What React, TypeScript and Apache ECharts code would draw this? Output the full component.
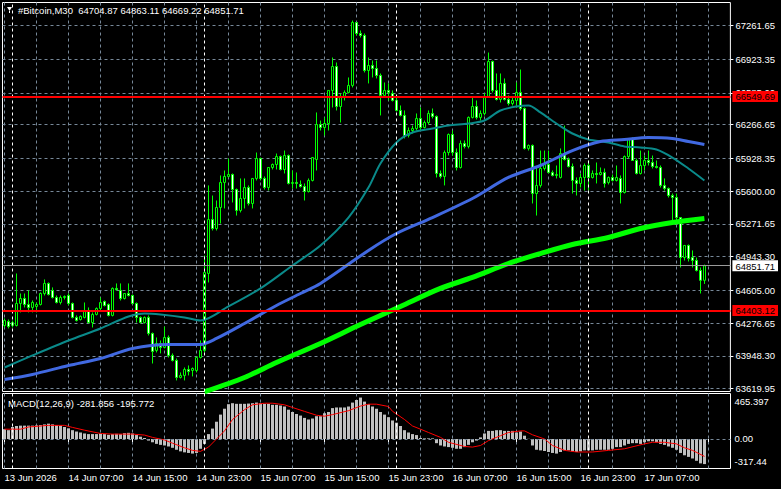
import React, { useEffect, useRef } from 'react';
import * as echarts from 'echarts';

const symbolName = '#Bitcoin,M30';
const FONT = "'Liberation Sans', Arial, sans-serif";

// OHLC of the M30 bars, first bar = 13 Jun 2026 23:00
const barOpen = [
  64252, 64292, 64252, 64252, 64473, 64523, 64463, 64433, 64443, 64463,
  64573, 64674, 64604, 64533, 64483, 64533, 64553, 64473, 64333, 64312,
  64333, 64393, 64282, 64363, 64423, 64493, 64463, 64353, 64624, 64604,
  64523, 64573, 64553, 64473, 64333, 64282, 64333, 64172, 64002, 64072,
  64032, 64132, 63952, 63901, 63731, 63751, 63811, 63801, 63801, 63931,
  64002, 64774, 65315, 65225, 65436, 65687, 65747, 65767, 65616, 65406,
  65526, 65636, 65476, 65727, 65927, 65727, 65636, 65837, 65867, 65947,
  65817, 65957, 65677, 65687, 65667, 65646, 65596, 65707, 65917, 66268,
  66238, 66278, 66610, 66850, 66449, 66550, 66590, 66660, 67291, 67181,
  67161, 66810, 66860, 66830, 66760, 66560, 66610, 66580, 66509, 66409,
  66359, 66158, 66208, 66228, 66329, 66238, 66288, 66379, 66349, 65777,
  65747, 65987, 66168, 65987, 65837, 66078, 66048, 66339, 66449, 66339,
  66379, 66550, 66900, 66610, 66520, 66680, 66520, 66479, 66509, 66590,
  66429, 66028, 66058, 65576, 65657, 65827, 65867, 65787, 65757, 65737,
  65977, 65917, 65847, 65707, 65677, 65737, 65857, 65737, 65777, 65767,
  65787, 65687, 65737, 65707, 65727, 65586, 65947, 66118, 65907, 65777,
  65857, 65907, 65887, 65847, 65837, 65657, 65626, 65556, 65536, 65335,
  64934, 65055, 64934, 64904, 64804, 64704.87,
];
const barHigh = [
  64323, 64312, 64302, 64774, 64573, 64573, 64604, 64503, 64483, 64584,
  64714, 64684, 64634, 64553, 64553, 64553, 64573, 64483, 64353, 64353,
  64483, 64433, 64383, 64433, 64533, 64503, 64473, 64634, 64674, 64674,
  64573, 64674, 64563, 64483, 64343, 64343, 64353, 64182, 64132, 64102,
  64242, 64152, 63972, 63921, 63781, 63831, 63851, 63831, 63942, 64102,
  64954, 65657, 65556, 65506, 65757, 65807, 65927, 65777, 65626, 65727,
  65727, 65657, 65727, 65987, 65937, 65747, 65837, 65877, 65977, 65957,
  66007, 65967, 65807, 65787, 65707, 65677, 65727, 65937, 66389, 66308,
  66339, 66610, 66940, 66890, 66580, 66610, 66740, 67311, 67291, 67211,
  67181, 66940, 66910, 66910, 66780, 66690, 66680, 66610, 66540, 66459,
  66409, 66238, 66258, 66379, 66439, 66308, 66409, 66429, 66359, 65807,
  66007, 66178, 66208, 66028, 66108, 66108, 66349, 66540, 66509, 66409,
  66580, 66990, 66910, 66780, 66780, 66730, 66560, 66540, 66690, 66820,
  66439, 66068, 66068, 65837, 66007, 66007, 66007, 65807, 65857, 66028,
  66258, 65937, 65877, 65737, 65777, 65877, 65907, 65807, 65887, 65837,
  65827, 65747, 65767, 65857, 65757, 65957, 66118, 66138, 65927, 66007,
  65957, 66007, 65957, 65907, 65857, 65727, 65636, 65576, 65576, 65335,
  65055, 65065, 65005, 64934, 64834, 64863.11,
];
const barLow = [
  64232, 64222, 64232, 64242, 64383, 64433, 64383, 64383, 64383, 64453,
  64553, 64553, 64523, 64473, 64463, 64513, 64453, 64323, 64292, 64302,
  64323, 64272, 64232, 64353, 64403, 64443, 64343, 64343, 64604, 64503,
  64513, 64543, 64463, 64282, 64272, 64272, 64152, 63871, 63982, 63972,
  64022, 63931, 63891, 63701, 63721, 63701, 63751, 63741, 63781, 63921,
  63982, 64684, 65205, 65205, 65275, 65426, 65737, 65486, 65355, 65386,
  65426, 65456, 65426, 65707, 65707, 65616, 65606, 65817, 65817, 65807,
  65777, 65667, 65626, 65626, 65636, 65506, 65586, 65697, 65807, 66208,
  66158, 66208, 66439, 66409, 66288, 66509, 66580, 66640, 67161, 67141,
  66790, 66680, 66740, 66730, 66359, 66540, 66509, 66499, 66399, 66349,
  66128, 66138, 66178, 66208, 66208, 66228, 66268, 66329, 65737, 65727,
  65657, 65957, 65957, 65807, 65827, 66028, 66028, 66329, 66319, 66308,
  66359, 66540, 66590, 66509, 66489, 66509, 66459, 66459, 66439, 66409,
  66017, 66007, 65476, 65355, 65636, 65807, 65777, 65747, 65727, 65727,
  65907, 65837, 65576, 65556, 65636, 65606, 65606, 65727, 65677, 65757,
  65636, 65667, 65697, 65697, 65476, 65576, 65927, 65907, 65767, 65767,
  65807, 65857, 65827, 65827, 65636, 65606, 65536, 65305, 65315, 64834,
  64904, 64894, 64834, 64794, 64573, 64669.22,
];
const barClose = [
  64302, 64242, 64282, 64473, 64523, 64463, 64433, 64483, 64463, 64573,
  64674, 64563, 64533, 64483, 64533, 64543, 64473, 64333, 64302, 64343,
  64393, 64282, 64363, 64423, 64483, 64453, 64353, 64624, 64610, 64523,
  64573, 64553, 64473, 64333, 64282, 64333, 64172, 63992, 64072, 64032,
  64132, 63952, 63901, 63731, 63751, 63811, 63791, 63821, 63931, 64002,
  64784, 65315, 65225, 65436, 65687, 65747, 65767, 65616, 65406, 65526,
  65636, 65476, 65727, 65927, 65727, 65636, 65837, 65867, 65947, 65817,
  65957, 65677, 65687, 65677, 65646, 65596, 65707, 65937, 66268, 66238,
  66278, 66610, 66850, 66449, 66550, 66590, 66660, 67291, 67181, 67161,
  66810, 66860, 66830, 66760, 66560, 66610, 66590, 66509, 66409, 66359,
  66158, 66208, 66228, 66329, 66238, 66288, 66379, 66349, 65777, 65747,
  65987, 66168, 65987, 65837, 66078, 66048, 66339, 66449, 66339, 66379,
  66550, 66900, 66610, 66520, 66680, 66520, 66479, 66509, 66590, 66429,
  66028, 66058, 65576, 65657, 65827, 65867, 65787, 65757, 65767, 65977,
  65917, 65847, 65707, 65677, 65737, 65857, 65737, 65777, 65767, 65787,
  65677, 65737, 65707, 65737, 65586, 65947, 66118, 65907, 65777, 65857,
  65907, 65887, 65847, 65837, 65657, 65626, 65556, 65536, 65335, 64934,
  65055, 64924, 64904, 64804, 64704.87, 64851.71,
];

// moving averages: [bar index, price]
const maTeal = [
  [0, 63831], [7, 63952], [16, 64102], [24, 64222], [31, 64343], [35, 64373], [39, 64363],
  [45, 64333], [49, 64302], [56, 64443], [64, 64624], [72, 64854], [79, 65055], [86, 65335],
  [91, 65636], [94, 65877], [98, 66088], [102, 66188], [107, 66228], [111, 66258], [116, 66278],
  [120, 66308], [124, 66409], [128, 66449], [131, 66459], [134, 66389], [138, 66278], [142, 66178],
  [146, 66118], [151, 66088], [155, 66048], [159, 66038], [163, 66017], [167, 65937], [171, 65827],
  [175, 65707],
];
const maBlue = [
  [0, 63711], [7, 63761], [16, 63851], [24, 63921], [32, 64022], [41, 64062], [49, 64062],
  [53, 64122], [60, 64272], [68, 64453], [74, 64573], [79, 64674], [91, 65005], [98, 65175],
  [107, 65335], [117, 65526], [126, 65737], [134, 65857], [142, 66007], [149, 66098],
  [155, 66118], [161, 66138], [167, 66128], [171, 66098], [175, 66068],
];
const maLime = [
  [50, 63587], [60, 63731], [68, 63881], [79, 64072], [89, 64262], [99, 64443], [109, 64624],
  [117, 64734], [126, 64874], [134, 64974], [142, 65065], [151, 65135], [159, 65225],
  [167, 65285], [175, 65325],
];

// MACD(12,26,9) histogram per bar and signal line [bar index, value]
const macdHist = [
  110, 99, 135, 146, 150, 150, 150, 150, 153, 157,
  164, 172, 164, 157, 150, 135, 120, 99, 84, 73,
  62, 55, 55, 55, 62, 55, 47, 55, 58, 55,
  66, 69, 62, 44, 26, 11, -18, -37, -55, -66,
  -73, -84, -99, -121, -139, -150, -157, -164, -157, -110,
  -55, 55, 117, 194, 274, 340, 391, 402, 395, 395,
  395, 398, 402, 409, 402, 395, 395, 384, 384, 376,
  365, 329, 303, 281, 263, 237, 219, 230, 256, 256,
  289, 303, 347, 354, 354, 354, 365, 409, 438, 465.397,
  420, 391, 365, 340, 303, 274, 245, 208, 183, 146,
  99, 73, 55, 44, 11, 7, 7, 7, -47, -73,
  -84, -91, -99, -110, -110, -91, -66, -37, -18, 18,
  62, 91, 91, 99, 99, 91, 91, 91, 73, 84,
  37, 2, -73, -121, -128, -135, -146, -157, -164, -146,
  -128, -128, -139, -146, -139, -128, -128, -128, -121, -121,
  -121, -121, -110, -91, -91, -73, -55, -47, -47, -55,
  -37, -26, -26, -37, -55, -66, -84, -99, -121, -157,
  -183, -201, -219, -245, -274, -281.856,
];
const macdSignal = [
  [0, 110], [4, 110], [6, 135], [11, 153], [15, 153], [17, 130], [20, 99], [24, 62], [27, 55],
  [32, 55], [35, 44], [37, 18], [40, -11], [42, -47], [45, -99], [47, -128], [49, -139],
  [51, -91], [53, 0], [55, 91], [57, 219], [60, 329], [62, 384], [65, 402], [67, 402],
  [70, 384], [72, 354], [75, 310], [78, 267], [80, 256], [82, 274], [86, 318], [89, 370],
  [91, 391], [93, 391], [96, 365], [97, 311], [100, 219], [102, 146], [104, 110], [106, 73],
  [109, 18], [111, -37], [115, -84], [117, -91], [119, -73], [121, -18], [124, 37], [126, 73],
  [129, 91], [130, 91], [132, 47], [135, 0], [137, -73], [140, -128], [143, -146], [147, -146],
  [151, -128], [155, -110], [160, -55], [162, -37], [165, -37], [168, -55], [170, -99],
  [172, -128], [175, -195.772],
];

const categories = Array.from({ length: 182 }, (_, i) => 'bar' + i);
const xTickLabels = [
  '13 Jun 2026', '14 Jun 07:00', '14 Jun 15:00', '14 Jun 23:00', '15 Jun 07:00', '15 Jun 15:00',
  '15 Jun 23:00', '16 Jun 07:00', '16 Jun 15:00', '16 Jun 23:00', '17 Jun 07:00',
];
const daySeparators = [2, 50, 98, 146];
const priceTicks = [
  63619.95, 63948.3, 64276.65, 64605.0, 64943.3, 65271.65, 65600.0, 65928.35, 66266.65,
  66585.0, 66923.35, 67261.65,
];
const levelLines = [66549.69, 64403.12];
const macdTicks = [465.397, 0, -317.44];
const macdTickLabels = ['465.397', '0.00', '-317.44'];

export default function App() {
  const ref = useRef<HTMLDivElement>(null);
  useEffect(() => {
    const chart = echarts.init(ref.current!, null, { renderer: 'svg' });
    const n = barClose.length;
    const lastO = barOpen[n - 1], lastH = barHigh[n - 1], lastL = barLow[n - 1], lastC = barClose[n - 1];
    const macdLast = macdHist[macdHist.length - 1];
    const signalLast = macdSignal[macdSignal.length - 1][1];
    const grid = '#778899';
    const dash = [3, 3];
    const txt = { color: '#ffffff', fontSize: 9.5, fontFamily: FONT };
    const sepLines = daySeparators.map((d) => ({ xAxis: d }));

    const option: any = {
      animation: false,
      backgroundColor: '#000000',
      title: [
        {
          text: `${symbolName}  ${lastO.toFixed(2)} ${lastH.toFixed(2)} ${lastL.toFixed(2)} ${lastC.toFixed(2)}`,
          left: 18, top: 4, padding: 0,
          textStyle: { ...txt, fontWeight: 'normal', lineHeight: 12 },
        },
        {
          text: `MACD(12,26,9) ${macdLast} ${signalLast}`,
          left: 8, top: 397, padding: 0,
          textStyle: { ...txt, fontWeight: 'normal', lineHeight: 12 },
        },
      ],
      graphic: [
        { type: 'polygon', shape: { points: [[7, 7], [12, 7], [9.5, 11]] }, style: { fill: '#ffffff' } },
        { type: 'line', shape: { x1: 9.5, y1: 11, x2: 9.5, y2: 13 }, style: { stroke: '#ffffff', lineWidth: 1 } },
      ],
      grid: [
        { left: 2.5, top: 2.5, width: 728, height: 389, show: true, borderColor: '#ffffff', borderWidth: 1, backgroundColor: 'transparent' },
        { left: 2.5, top: 393.5, width: 728, height: 75, show: true, borderColor: '#ffffff', borderWidth: 1, backgroundColor: 'transparent' },
      ],
      xAxis: [
        {
          gridIndex: 0, type: 'category', data: categories, boundaryGap: true,
          axisLine: { show: false }, axisTick: { show: false, alignWithLabel: true }, axisLabel: { show: false },
          splitLine: { show: true, interval: 7, alignWithLabel: true, lineStyle: { color: grid, type: dash, width: 1 } },
        },
        {
          gridIndex: 1, type: 'category', data: categories, boundaryGap: true,
          axisLine: { show: false },
          axisTick: { show: true, interval: 15, alignWithLabel: true, length: 3, lineStyle: { color: '#ffffff' } },
          axisLabel: {
            interval: 15, align: 'left', margin: 4, ...txt,
            formatter: (_v: string, idx: number) => xTickLabels[idx / 16] ?? '',
          },
          splitLine: { show: true, interval: 7, alignWithLabel: true, lineStyle: { color: grid, type: dash, width: 1 } },
        },
      ],
      yAxis: [
        {
          gridIndex: 0, type: 'value', position: 'right', min: 63590, max: 67492, scale: true,
          axisLine: { show: false },
          axisTick: { show: true, customValues: priceTicks, length: 3, lineStyle: { color: '#ffffff' } },
          axisLabel: { customValues: priceTicks, margin: 5, ...txt, formatter: (v: number) => v.toFixed(2) },
          splitLine: { show: true, lineStyle: { color: grid, type: dash, width: 1 } },
        },
        {
          gridIndex: 0, type: 'value', position: 'right', min: 63590, max: 67492, scale: true, z: 10,
          axisLine: { show: false }, axisTick: { show: false }, splitLine: { show: false },
          axisLabel: {
            customValues: [...levelLines, lastC], margin: 2, ...txt,
            formatter: (v: number) => (v === lastC ? `{cur|${v.toFixed(2)}}` : `{lvl|${v.toFixed(2)}}`),
            rich: {
              cur: { backgroundColor: '#ffffff', color: '#000000', padding: [1, 3, 0, 3], fontSize: 9.5, fontFamily: FONT, lineHeight: 10 },
              lvl: { backgroundColor: '#ff0000', color: '#000000', padding: [1, 3, 0, 3], fontSize: 9.5, fontFamily: FONT, lineHeight: 10 },
            },
          },
        },
        {
          gridIndex: 1, type: 'value', position: 'right', min: -331.5, max: 511,
          axisLine: { show: false }, axisTick: { show: false }, splitLine: { show: false },
          axisLabel: {
            customValues: macdTicks, margin: 4, ...txt,
            formatter: (v: number) => {
              const k = macdTicks.indexOf(v);
              const s = macdTickLabels[k] ?? String(v);
              return k === 0 ? `{top|${s}}` : k === 2 ? `{bot|${s}}` : `{mid|${s}}`;
            },
            rich: {
              top: { padding: [7, 0, 0, 0], color: '#ffffff', fontSize: 9.5, fontFamily: FONT },
              mid: { color: '#ffffff', fontSize: 9.5, fontFamily: FONT },
              bot: { padding: [0, 0, 11, 0], color: '#ffffff', fontSize: 9.5, fontFamily: FONT },
            },
          },
        },
      ],
      series: [
        {
          type: 'candlestick', xAxisIndex: 0, yAxisIndex: 0, barWidth: 2, silent: true,
          data: barOpen.map((o, i) => [o, barClose[i], barLow[i], barHigh[i]]),
          itemStyle: { color: '#000000', color0: '#ffffff', borderColor: '#00ff00', borderColor0: '#00ff00', borderWidth: 1 },
          markLine: {
            silent: true, symbol: 'none', label: { show: false },
            lineStyle: { color: '#ffffff', type: dash, width: 1 },
            data: sepLines,
          },
        },
        {
          type: 'line', xAxisIndex: 0, yAxisIndex: 0, data: maTeal, showSymbol: false, smooth: 0.3, silent: true,
          lineStyle: { color: '#0a8a8a', width: 2 },
        },
        {
          type: 'line', xAxisIndex: 0, yAxisIndex: 0, data: maBlue, showSymbol: false, smooth: 0.3, silent: true,
          lineStyle: { color: '#4169e1', width: 3 },
        },
        {
          type: 'line', xAxisIndex: 0, yAxisIndex: 0, data: maLime, showSymbol: false, smooth: 0.3, silent: true,
          lineStyle: { color: '#00ff00', width: 5 },
          markLine: {
            silent: true, symbol: 'none', label: { show: false },
            data: [
              ...levelLines.map((v) => ({ yAxis: v, lineStyle: { color: '#ff0000', width: 2, type: 'solid' } })),
              { yAxis: lastC, lineStyle: { color: '#9a9a9a', width: 1, type: 'solid' } },
            ],
          },
        },
        {
          type: 'bar', xAxisIndex: 1, yAxisIndex: 2, data: macdHist, barWidth: 3, silent: true,
          itemStyle: { color: '#c0c0c0' },
          markLine: {
            silent: true, symbol: 'none', label: { show: false },
            data: [
              { yAxis: 0, lineStyle: { color: grid, type: dash, width: 1 } },
              ...daySeparators.map((d) => ({ xAxis: d, lineStyle: { color: '#ffffff', type: dash, width: 1 } })),
            ],
          },
        },
        {
          type: 'line', xAxisIndex: 1, yAxisIndex: 2, data: macdSignal, showSymbol: false, silent: true,
          lineStyle: { color: '#ff0000', width: 1 },
        },
      ],
    };
    chart.setOption(option);
    return () => chart.dispose();
  }, []);
  return (
    <div
      ref={ref}
      style={{ position: 'fixed', left: 0, top: 0, width: 781, height: 489, background: '#000' }}
    />
  );
}
